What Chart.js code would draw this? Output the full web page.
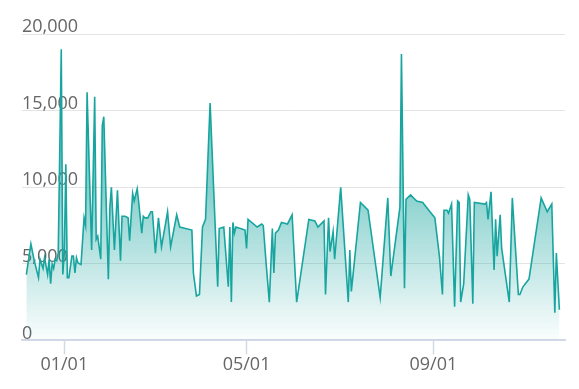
<!DOCTYPE html>
<html><head><meta charset="utf-8">
<script src="https://cdn.jsdelivr.net/npm/chart.js@4/dist/chart.umd.min.js"></script>
<style>html,body{margin:0;padding:0;background:#fff}#wrap{width:579px;height:389px}</style>
</head><body><div id="wrap"><canvas id="c"></canvas></div>
<script>
// days counted from 01/01 (negative = December of previous year)
const days = [-25,-22,-20,-17,-16,-14,-13,-11,-10,-9,-8,-7,-6,-5,-4,-2,-1,0,1,2,3,5,6,7,8,9,10,11,13,14,15,18,20,21,22,24,25,26,29,30,31,33,35,37,38,40,42,43,45,46,48,49,51,52,53,55,57,58,60,62,64,68,70,74,76,84,85,87,89,91,93,96,101,102,105,108,109,110,111,112,113,119,120,121,127,130,131,133,135,137,138,139,141,143,147,150,153,161,165,167,171,172,174,175,177,178,182,187,188,189,195,200,208,213,215,221,222,224,225,228,232,236,240,244,247,249,250,252,253,255,257,259,260,261,263,266,267,269,270,277,278,279,281,283,284,285,287,288,293,295,299,300,302,306,314,318,321,323,324,326];
const values = [4300,6300,5300,4100,5300,4700,5400,4300,5300,3700,5000,4700,5300,5200,5700,19000,4300,5700,11500,4100,4100,5500,5500,4400,5400,5050,5000,4950,8000,7500,16200,5900,15900,6600,6800,5300,14000,14600,4000,8700,10000,5900,9800,5200,8100,8100,8000,6500,9600,9100,9900,9000,7000,8100,8000,8000,8400,8400,5700,8000,6100,8400,6100,8200,7400,7200,4400,2900,3000,7400,7900,15500,3500,7300,7400,3500,7400,2500,7700,7000,7400,7200,6000,7900,7400,7600,7500,4900,2500,7300,4400,7000,7200,7700,7600,8200,2500,7900,7800,7400,7800,3000,8000,5800,7100,5300,10000,2500,5900,3200,9000,8500,2800,9300,4200,8700,18700,3400,9200,9500,9100,9000,8500,8000,5500,3000,8500,8500,8300,8900,2200,9100,9000,2500,3700,9500,9200,2400,9000,8900,9000,7900,9700,4600,7900,5500,8200,6000,2500,9300,3000,3000,3500,4000,9300,8400,8900,1800,5700,2000];
const xTickDays = [0, 120, 243];
const xTickLabels = ['01/01', '05/01', '09/01'];
const yTickValues = [0, 5000, 10000, 15000, 20000];

const points = days.map((d, i) => ({x: d, y: values[i]}));
const FONT = {family: "'Open Sans', sans-serif", size: 18};

new Chart(document.getElementById('c'), {
  type: 'line',
  data: {
    datasets: [{
      data: points,
      borderColor: '#18a59f',
      borderWidth: 1.6,
      pointRadius: 0,
      tension: 0,
      fill: 'origin',
      backgroundColor: (ctx) => {
        const ch = ctx.chart;
        const ca = ch.chartArea;
        if (!ca) return 'rgba(24,165,159,0.3)';
        const g = ch.ctx.createLinearGradient(0, ca.top, 0, ca.bottom);
        const p10 = (ch.scales.y.getPixelForValue(10000) - ca.top) / (ca.bottom - ca.top);
        g.addColorStop(0, 'rgba(24,165,159,0.62)');
        g.addColorStop(p10, 'rgba(24,165,159,0.52)');
        g.addColorStop(1, 'rgba(24,165,159,0.02)');
        return g;
      }
    }]
  },
  options: {
    responsive: true,
    maintainAspectRatio: false,
    animation: false,
    layout: {padding: {top: 34, left: 22, right: 14, bottom: 13}},
    plugins: {legend: {display: false}, tooltip: {enabled: false}},
    scales: {
      x: {
        type: 'linear',
        min: -27.86,
        max: 329.7,
        afterBuildTicks: (axis) => { axis.ticks = xTickDays.map(v => ({value: v})); },
        ticks: {
          callback: (v) => { const i = xTickDays.indexOf(v); return i >= 0 ? xTickLabels[i] : ''; },
          font: FONT, color: '#666', maxRotation: 0, autoSkip: false, padding: 0
        },
        grid: {drawOnChartArea: false, drawTicks: true, tickLength: 14, tickColor: '#d3d8e8', tickWidth: 1.5},
        border: {color: '#d3d8e8', width: 2}
      },
      y: {
        min: 0, max: 20000,
        afterBuildTicks: (axis) => { axis.ticks = yTickValues.map(v => ({value: v})); },
        ticks: {
          mirror: true, padding: 0, labelOffset: -7,
          callback: (v) => v.toLocaleString('en-US'),
          font: FONT, color: '#666'
        },
        grid: {color: '#e4e4e4', drawTicks: false, lineWidth: 1},
        border: {display: false}
      }
    }
  }
});
</script>
</body></html>
